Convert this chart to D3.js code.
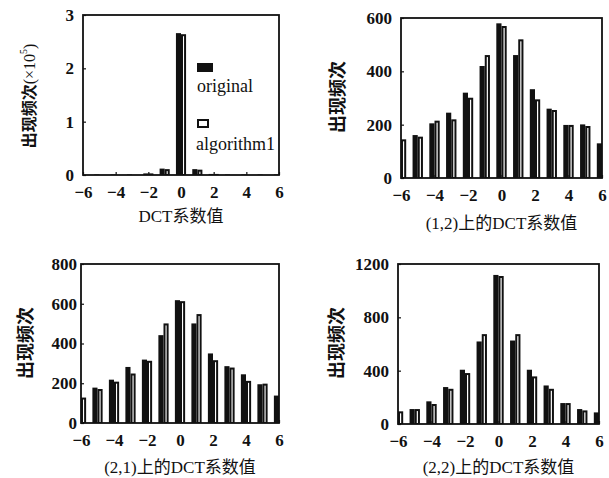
<!DOCTYPE html>
<html>
<head>
<meta charset="utf-8">
<script src="https://cdn.jsdelivr.net/npm/d3@7"></script>
<style>
  body { margin: 0; background: #fff; }
  text { font-family: "Liberation Serif", "Noto Sans CJK SC", serif; fill: #111; }
</style>
</head>
<body>
<svg id="chart" width="609" height="478"></svg>
<script>
// DATA
const coeffs = [-6, -5, -4, -3, -2, -1, 0, 1, 2, 3, 4, 5, 6];
const xTicks = [-6, -4, -2, 0, 2, 4, 6];
// - DC coefficient (x 10^5)
const originalDC   = [0.01, 0.01, 0.01, 0.01, 0.03, 0.12, 2.66, 0.11, 0.02, 0.01, 0.01, 0.01, 0.01];
const algorithmDC  = [0.01, 0.01, 0.01, 0.01, 0.03, 0.11, 2.64, 0.10, 0.02, 0.01, 0.01, 0.01, 0.01];
const yTicksDC = [0, 1, 2, 3];
// - position (1,2)
const original12   = [140, 161, 205, 245, 320, 420, 580, 461, 333, 260, 199, 201, 130];
const algorithm12  = [145, 155, 215, 220, 301, 461, 570, 520, 295, 255, 199, 195, 125];
const yTicks12 = [0, 200, 400, 600];
// - position (2,1)
const original21   = [125, 178, 218, 282, 319, 442, 618, 501, 350, 286, 245, 195, 138];
const algorithm21  = [128, 171, 208, 249, 313, 501, 613, 548, 316, 279, 212, 198, 135];
const yTicks21 = [0, 200, 400, 600, 800];
// - position (2,2)
const original22   = [95, 112, 170, 277, 407, 619, 1118, 626, 407, 289, 157, 112, 87];
const algorithm22  = [95, 112, 150, 264, 382, 674, 1110, 674, 357, 264, 157, 102, 85];
const yTicks22 = [0, 400, 800, 1200];

// SVG CONSTANTS
const svg = d3.select('#chart');
const barWidth = 0.31; // in coefficient units
const tickFont = 'bold 17px "Liberation Serif", serif';
const labelSize = '17px';

const panels = [
  { id: 'dc', box: [83, 15, 279, 175], yMax: 3, yTicks: yTicksDC, orig: originalDC, alg: algorithmDC,
    yLabel: '出现频次', yLabelSup: true, yLabelX: 29, yLabelY: 96, xLabel: 'DCT系数值', xLabelY: 222, yPad: 9, legend: true },
  { id: 'p12', box: [401, 18, 602, 178], yMax: 600, yTicks: yTicks12, orig: original12, alg: algorithm12,
    yLabel: '出现频次', yLabelX: 338, yLabelY: 97, xLabel: '(1,2)上的DCT系数值', xLabelY: 229, yPad: 9 },
  { id: 'p21', box: [81, 264, 279, 423], yMax: 800, yTicks: yTicks21, orig: original21, alg: algorithm21,
    yLabel: '出现频次', yLabelX: 26, yLabelY: 343, xLabel: '(2,1)上的DCT系数值', xLabelY: 473, yPad: 4 },
  { id: 'p22', box: [398, 264, 599, 424], yMax: 1200, yTicks: yTicks22, orig: original22, alg: algorithm22,
    yLabel: '出现频次', yLabelX: 337, yLabelY: 343, xLabel: '(2,2)上的DCT系数值', xLabelY: 473, yPad: 9 }
];

// draws one histogram panel
function drawPanel(p){
  const [x0, y0, x1, y1] = p.box;
  const x = d3.scaleLinear().domain([-6, 6]).range([x0, x1]);
  const y = d3.scaleLinear().domain([0, p.yMax]).range([y1, y0]);
  const g = svg.append('g').attr('class', 'panel-' + p.id);

  // clip so the outer half-bars are cut by the frame
  svg.append('defs').append('clipPath')
      .attr('id', 'clip-' + p.id)
    .append('rect')
      .attr('x', x0).attr('y', y0)
      .attr('width', x1 - x0).attr('height', y1 - y0);

  const bars = g.append('g').attr('clip-path', 'url(#clip-' + p.id + ')');

  // original: filled bar left of the coefficient
  bars.selectAll('rect.orig')
    .data(coeffs)
    .join('rect')
      .attr('class', 'orig')
      .attr('x', (d) => x(d - barWidth))
      .attr('y', (d, i) => y(p.orig[i]))
      .attr('width', (d) => x(d) - x(d - barWidth))
      .attr('height', (d, i) => y1 - y(p.orig[i]))
      .attr('fill', '#111');

  // algorithm1: hollow bar right of the coefficient (heavy outline like the scan)
  bars.selectAll('rect.alg')
    .data(coeffs)
    .join('rect')
      .attr('class', 'alg')
      .attr('x', (d) => x(d) + 1)
      .attr('y', (d, i) => y(p.alg[i]) + 1)
      .attr('width', (d) => x(d + barWidth) - x(d) - 2)
      .attr('height', (d, i) => Math.max(0, y1 - y(p.alg[i]) - 1))
      .attr('fill', '#fff')
      .attr('stroke', '#111')
      .attr('stroke-width', 2);

  // axes, ticks pointing inward
  g.append('g')
      .attr('transform', 'translate(0,' + y1 + ')')
      .call(d3.axisBottom(x).tickValues(xTicks).tickFormat(d3.format('d'))
        .tickSizeInner(-3).tickSizeOuter(0).tickPadding(11))
      .call((a) => a.select('.domain').remove())
      .call((a) => a.selectAll('text').style('font', tickFont).attr('fill', '#111'));

  g.append('g')
      .attr('transform', 'translate(' + x0 + ',0)')
      .call(d3.axisLeft(y).tickValues(p.yTicks).tickFormat(d3.format('d'))
        .tickSizeInner(-3).tickSizeOuter(0).tickPadding(p.yPad))
      .call((a) => a.select('.domain').remove())
      .call((a) => a.selectAll('text').style('font', tickFont).attr('fill', '#111'));

  g.selectAll('.tick line').attr('stroke', '#111').attr('stroke-width', 1.2);

  // frame
  g.append('rect')
      .attr('x', x0).attr('y', y0)
      .attr('width', x1 - x0).attr('height', y1 - y0)
      .attr('fill', 'none')
      .attr('stroke', '#111')
      .attr('stroke-width', 1.8);

  // y label (rotated)
  const yl = g.append('text')
      .attr('transform', 'translate(' + p.yLabelX + ',' + p.yLabelY + ') rotate(-90)')
      .attr('text-anchor', 'middle')
      .attr('dominant-baseline', 'central')
      .attr('font-size', p.yLabelSup ? '16px' : '18px')
      .attr('font-weight', 'bold')
    .text(p.yLabel);
  if(p.yLabelSup){
    yl.append('tspan').attr('font-weight', 'normal').text('(×10');
    yl.append('tspan').attr('dy', -6).attr('font-size', '10px').attr('font-weight', 'normal').text('5');
    yl.append('tspan').attr('dy', 6).attr('font-weight', 'normal').text(')');
  }

  // x label
  g.append('text')
      .attr('x', (x0 + x1) / 2)
      .attr('y', p.xLabelY)
      .attr('text-anchor', 'middle')
      .attr('font-size', labelSize)
    .text(p.xLabel);

  if(p.legend) drawLegend(g);
}

// legend inside the first panel
function drawLegend(g){
  g.append('rect')
      .attr('x', 197).attr('y', 63).attr('width', 16).attr('height', 9)
      .attr('fill', '#111');
  g.append('text').attr('x', 197).attr('y', 92).attr('font-size', '18px').text('original');
  g.append('rect')
      .attr('x', 198).attr('y', 120).attr('width', 10).attr('height', 7)
      .attr('fill', '#fff').attr('stroke', '#111').attr('stroke-width', 2);
  g.append('text').attr('x', 196).attr('y', 150).attr('font-size', '18px').text('algorithm1');
}

panels.forEach(drawPanel);
</script>
</body>
</html>
